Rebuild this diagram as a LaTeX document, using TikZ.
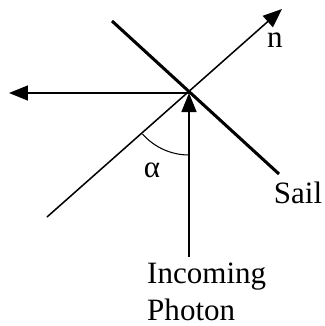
\documentclass[tikz,border=0pt]{standalone}
\usepackage{fontspec}
\setmainfont{Liberation Serif}
\usetikzlibrary{arrows.meta}

\begin{document}
\begin{tikzpicture}[>={Triangle[length=0.57cm,width=0.45cm]},
  font=\fontsize{26.5}{31.5}\selectfont]
\useasboundingbox (-5.67,-6.99) rectangle (4.05,2.79);
\coordinate (O) at (0,0);
% Sail
\coordinate (stop) at (-2.31,2.16);
\coordinate (sbot) at (2.7,-2.43);
\draw[line width=2.6pt] (stop) -- (sbot);
\node (sail) at (3.27,-3.0) {Sail};
% Normal
\coordinate (nbot) at (-4.26,-3.72);
\coordinate (ntip) at (2.79,2.52);
\draw[line width=1.3pt,->] (nbot) -- (ntip);
\node (n) at (2.58,1.59) {n};
% Reflected and incoming photon
\coordinate (out) at (-5.4,0);
\draw[line width=1.3pt,->] (O) -- (out);
\coordinate (in) at (0,-4.92);
\draw[line width=1.3pt,->] (in) -- (O);
\draw[line width=0.9pt] (221.5:1.86) arc (221.5:270:1.86);
\node (alpha) at (-1.11,-2.31) {α};
\node[anchor=north west,inner sep=0pt,align=left] (photon) at (-1.26,-5.1) {Incoming\\Photon};
\end{tikzpicture}
\end{document}
